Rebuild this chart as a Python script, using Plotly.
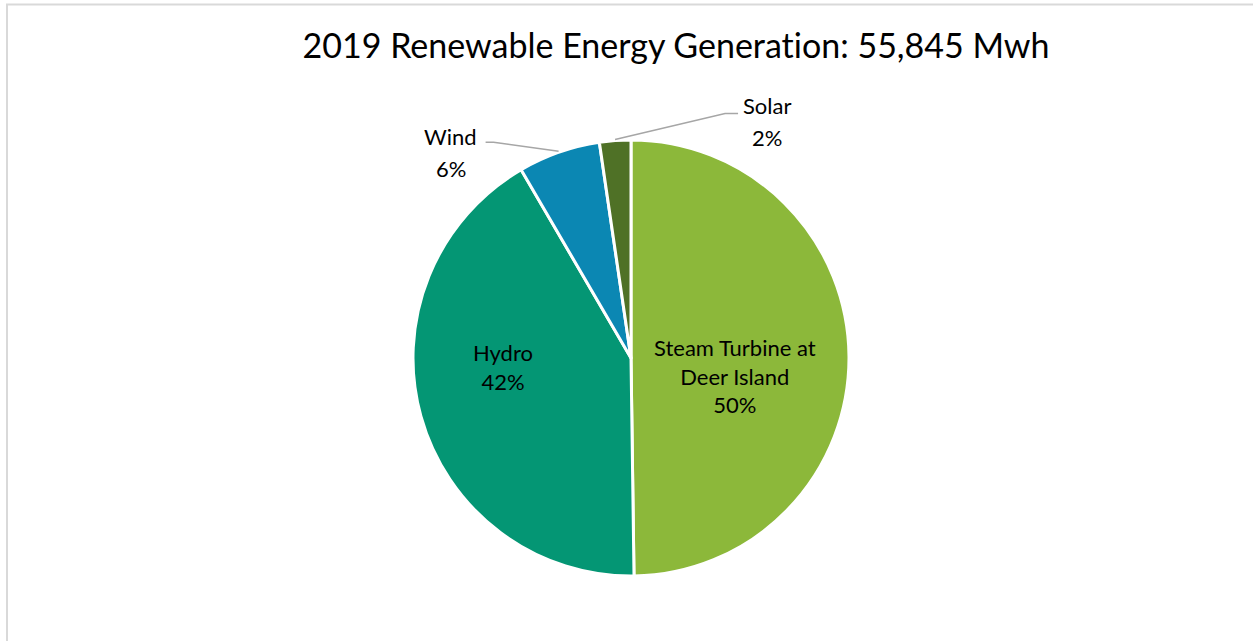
import math
import plotly.graph_objects as go

W, H = 1253, 641

labels = ["Steam Turbine at<br>Deer Island", "Hydro", "Wind", "Solar"]
values = [27800, 23350, 3400, 1295]
colors = ["#8CB83A", "#049674", "#0B87B3", "#4F7126"]
title_text = "2019 Renewable Energy Generat\u200cion: 55,845 Mwh"

# pie geometry (pixels)
cx, cy, R = 631, 358, 218

def px(x):
    return x / W

def py(y):
    return 1 - y / H

fig = go.Figure()
fig.add_trace(go.Pie(
    labels=labels,
    values=values,
    sort=False,
    direction="clockwise",
    rotation=0,
    marker=dict(colors=colors, line=dict(color="white", width=3)),
    texttemplate="",
    textinfo="none",
    domain=dict(x=[px(cx - R), px(cx + R)], y=[py(cy + R), py(cy - R)]),
    showlegend=False,
    hoverinfo="label+percent+value",
))

total = sum(values)
cum = 0
mids = []
for v in values:
    mids.append((cum + v / 2) / total * 360)
    cum += v

FONT = dict(family="Lato", size=22, color="#000000")
shapes = []
annotations = []

# inside labels: placed along the slice mid-angle, nudged
inside = {
    0: dict(rf=0.5, off=(-5, 19)),
    1: dict(rf=0.6, off=(-2, -26)),
}
for i, o in inside.items():
    ang = math.radians(mids[i])
    lx = cx + o["rf"] * R * math.sin(ang) + o["off"][0]
    ly = cy - o["rf"] * R * math.cos(ang) + o["off"][1]
    pct = round(values[i] / total * 100)
    annotations.append(dict(
        x=px(lx), y=py(ly), xref="paper", yref="paper",
        text=f"{labels[i]}<br>{pct}%", showarrow=False, font=FONT,
        align="center", xanchor="center", yanchor="middle",
    ))

# outside labels for the small slices, with leader lines
outside = {
    2: dict(elbow=(-65, -9), end=(-73, -9), label=(-108, 1)),
    3: dict(elbow=(110, -26), end=(123, -26), label=(152, -18)),
}
for i, o in outside.items():
    ang = math.radians(mids[i])
    ax_ = cx + (R + 1) * math.sin(ang)
    ay_ = cy - (R + 1) * math.cos(ang)
    ex, ey = ax_ + o["elbow"][0], ay_ + o["elbow"][1]
    fx, fy = ax_ + o["end"][0], ay_ + o["end"][1]
    shapes.append(dict(
        type="path", xref="paper", yref="paper",
        path=f"M {px(ax_)} {py(ay_)} L {px(ex)} {py(ey)} L {px(fx)} {py(fy)}",
        line=dict(color="#A6A6A6", width=1.5),
    ))
    pct = round(values[i] / total * 100)
    lx, ly = ax_ + o["label"][0], ay_ + o["label"][1]
    # name and percent as two lines with Excel-like spacing
    annotations.append(dict(
        x=px(lx), y=py(ly - 16), xref="paper", yref="paper",
        text=labels[i], showarrow=False, font=FONT,
        xanchor="center", yanchor="middle",
    ))
    annotations.append(dict(
        x=px(lx), y=py(ly + 16), xref="paper", yref="paper",
        text=f"{pct}%", showarrow=False, font=FONT,
        xanchor="center", yanchor="middle",
    ))

# chart-area border (left and top visible)
shapes.append(dict(
    type="rect", xref="paper", yref="paper",
    x0=px(7), x1=1.05, y0=-0.05, y1=py(4.5),
    line=dict(color="#D9D9D9", width=2), fillcolor="rgba(0,0,0,0)", layer="below",
))

fig.update_layout(
    width=W, height=H,
    margin=dict(l=0, r=0, t=0, b=0),
    paper_bgcolor="white", plot_bgcolor="white",
    title=dict(text=title_text, x=px(676), y=py(46), xanchor="center", yanchor="middle",
               font=dict(family="Lato", size=34, color="#000000")),
    shapes=shapes,
    annotations=annotations,
)

fig.write_html(
    "out.html",
    config={"displayModeBar": False},
    post_script="document.body.style.margin='0';document.body.style.overflow='hidden';",
)
